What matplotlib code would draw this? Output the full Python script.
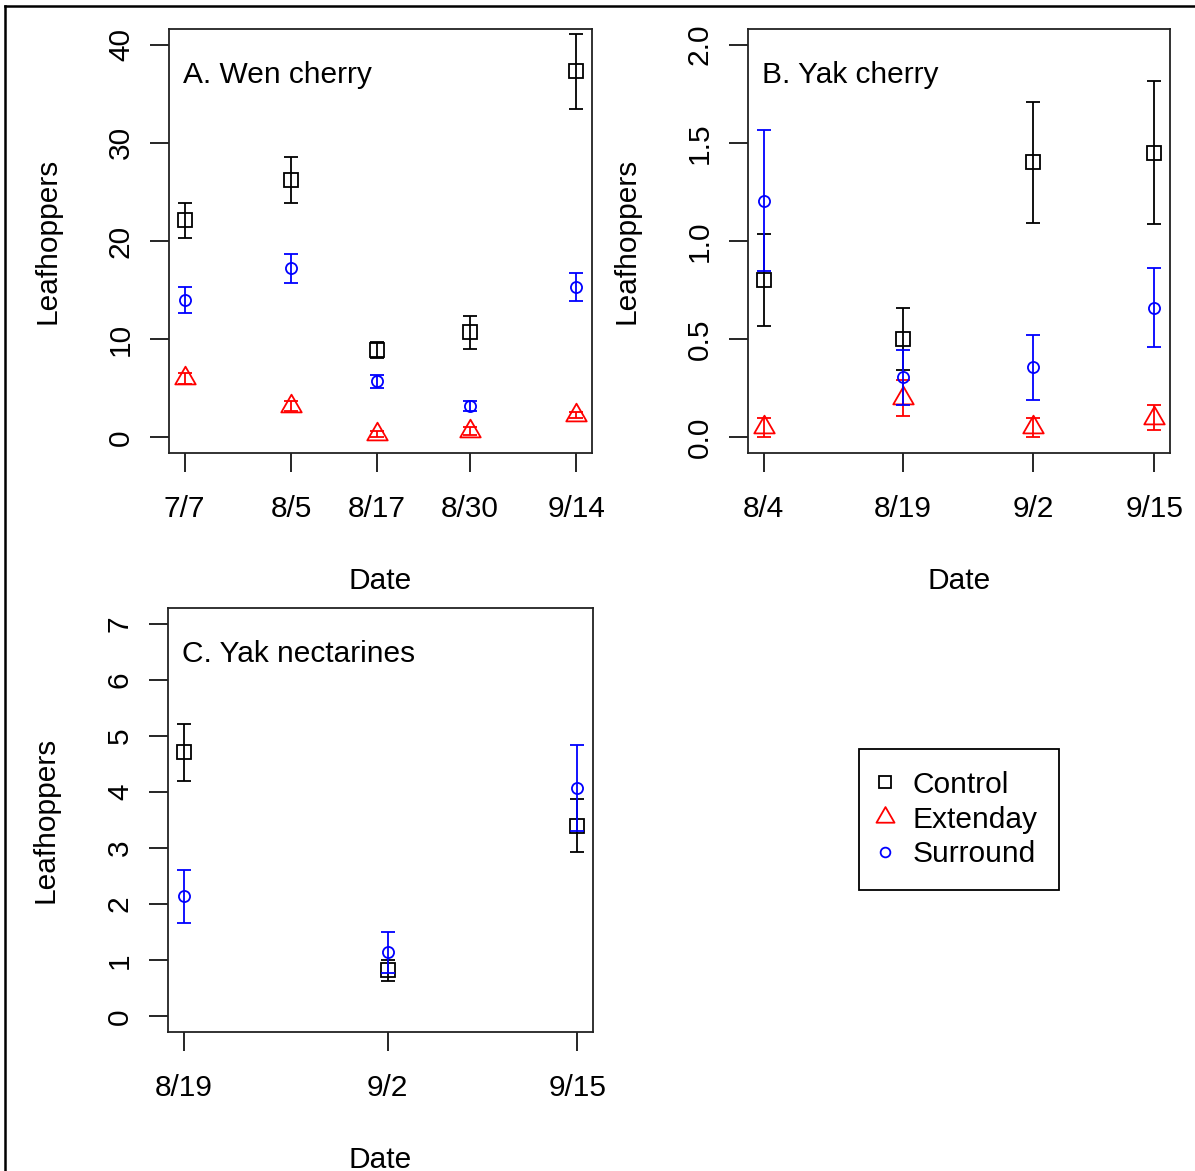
import matplotlib
matplotlib.use("Agg")
import matplotlib.pyplot as plt
from matplotlib.lines import Line2D
from matplotlib.path import Path

plt.rcParams["font.family"] = ["Liberation Sans", "DejaVu Sans"]

# day of year for each sampling date
dias_a = [202, 217, 229, 242, 257]
etiquetas_a = ["7/7", "8/5", "8/17", "8/30", "9/14"]
control_a = [22.1, 26.2, 8.9, 10.7, 37.3]
control_a_se = [1.75, 2.35, 0.85, 1.7, 3.8]
extenday_a = [6.0, 3.15, 0.35, 0.65, 2.3]
extenday_a_se = [0.6, 0.5, 0.3, 0.4, 0.3]
surround_a = [14.0, 17.2, 5.7, 3.2, 15.3]
surround_a_se = [1.3, 1.5, 0.65, 0.5, 1.4]

dias_b = [216, 231, 245, 258]
etiquetas_b = ["8/4", "8/19", "9/2", "9/15"]
control_b = [0.80, 0.50, 1.40, 1.45]
control_b_se = [0.235, 0.157, 0.31, 0.365]
extenday_b = [0.05, 0.20, 0.05, 0.10]
extenday_b_se = [0.05, 0.09, 0.05, 0.065]
surround_b = [1.205, 0.305, 0.356, 0.66]
surround_b_se = [0.36, 0.142, 0.167, 0.20]

dias_c = [231, 245, 258]
etiquetas_c = ["8/19", "9/2", "9/15"]
control_c = [4.71, 0.82, 3.40]
control_c_se = [0.51, 0.19, 0.47]
surround_c = [2.14, 1.14, 4.07]
surround_c_se = [0.47, 0.37, 0.76]

# R style triangle (pch = 2), point at the centroid
triangulo = Path([(0, 1), (0.866, -0.5), (-0.866, -0.5), (0, 1)],
                 [Path.MOVETO, Path.LINETO, Path.LINETO, Path.CLOSEPOLY])

estilos = {
    "Control": dict(marker="s", color="black", ms=10),
    "Extenday": dict(marker=triangulo, color="red", ms=17),
    "Surround": dict(marker="o", color="blue", ms=8),
}

W, H = 1195, 1171
FS = 21.5
fig = plt.figure(figsize=(W / 100, H / 100), dpi=100)


def caja(izq, der, arriba, abajo):
    return [izq / W, 1 - abajo / H, (der - izq) / W, (abajo - arriba) / H]


def panel(rect, dias, etiquetas, series, ymax, yticks, yfmt, titulo):
    ax = fig.add_axes(rect)
    for nombre, y, se in series:
        st = estilos[nombre]
        ax.errorbar(dias, y, yerr=se, fmt="none", ecolor=st["color"],
                    elinewidth=1.3, capsize=5, capthick=1.3)
        ax.plot(dias, y, linestyle="none", marker=st["marker"], ms=st["ms"],
                mfc="none", mec=st["color"], mew=1.3)
    rango = dias[-1] - dias[0]
    ax.set_xlim(dias[0] - 0.04 * rango, dias[-1] + 0.04 * rango)
    ax.set_ylim(-0.04 * ymax, 1.04 * ymax)
    ax.set_xticks(dias)
    ax.set_xticklabels(etiquetas, fontsize=FS)
    ax.set_yticks(yticks)
    ax.set_yticklabels([yfmt.format(v) for v in yticks], fontsize=FS,
                       rotation=90, va="center")
    ax.tick_params(length=13.5, width=1.2)
    ax.tick_params(axis="x", pad=17)
    ax.tick_params(axis="y", pad=11)
    for s in ax.spines.values():
        s.set_linewidth(1.3)
        s.set_color("#222222")
    ax.set_xlabel("Date", fontsize=FS)
    ax.set_ylabel("Leafhoppers", fontsize=FS)
    ax.xaxis.set_label_coords(0.5, -0.268)
    ax.yaxis.set_label_coords(-0.255, 0.5)
    ax.text(0.033, 0.892, titulo, transform=ax.transAxes, fontsize=FS,
            ha="left", va="center")
    return ax


panel(caja(169, 592, 29, 453), dias_a, etiquetas_a,
      [("Control", control_a, control_a_se),
       ("Extenday", extenday_a, extenday_a_se),
       ("Surround", surround_a, surround_a_se)],
      40, [0, 10, 20, 30, 40], "{:.0f}", "A. Wen cherry")

panel(caja(748, 1170, 29, 453), dias_b, etiquetas_b,
      [("Control", control_b, control_b_se),
       ("Extenday", extenday_b, extenday_b_se),
       ("Surround", surround_b, surround_b_se)],
      2, [0, 0.5, 1.0, 1.5, 2.0], "{:.1f}", "B. Yak cherry")

panel(caja(168, 593, 608, 1032), dias_c, etiquetas_c,
      [("Control", control_c, control_c_se),
       ("Surround", surround_c, surround_c_se)],
      7, [0, 1, 2, 3, 4, 5, 6, 7], "{:.0f}", "C. Yak nectarines")

# Legend
manejadores = [
    Line2D([], [], linestyle="none", marker="s", ms=9, mfc="none", mec="black", mew=1.3),
    Line2D([], [], linestyle="none", marker=triangulo, ms=15, mfc="none", mec="red", mew=1.3),
    Line2D([], [], linestyle="none", marker="o", ms=7, mfc="none", mec="blue", mew=1.3),
]
ley = fig.legend(manejadores, ["Control", "Extenday", "Surround"],
                 loc="center", bbox_to_anchor=(959 / W, 1 - 819.5 / H),
                 fontsize=FS, frameon=True, fancybox=False, framealpha=1,
                 edgecolor="black", borderpad=0.72, labelspacing=0.22,
                 handlelength=0.25, handletextpad=0.8, borderaxespad=0)
ley.get_frame().set_linewidth(1.3)

# outer frame of the original image
fig.add_artist(Line2D([5 / W, 5 / W], [0, 1 - 6 / H], transform=fig.transFigure,
                      color="black", lw=1.8))
fig.add_artist(Line2D([5 / W, 1], [1 - 6 / H, 1 - 6 / H], transform=fig.transFigure,
                      color="black", lw=1.8))

fig.savefig("out.png", dpi=100)
